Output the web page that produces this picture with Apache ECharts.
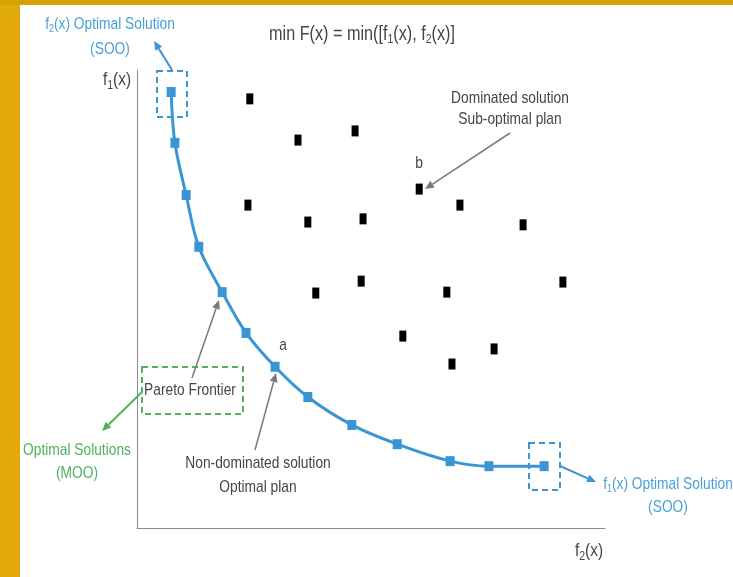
<!DOCTYPE html>
<html>
<head>
<meta charset="utf-8">
<script src="https://cdn.jsdelivr.net/npm/echarts@6/dist/echarts.min.js"></script>
<style>html,body{margin:0;padding:0;background:#fff;}#c{width:733px;height:577px;}</style>
</head>
<body>
<div id="c"></div>
<script>
// Pareto frontier (non-dominated solutions): f2(x) values, f1(x) values
const paretoF2 = [7.3, 8.1, 10.5, 13.2, 18.2, 23.3, 29.5, 36.5, 45.9, 55.6, 66.9, 75.2, 87.0];
const paretoF1 = [95.2, 84.1, 72.7, 61.4, 51.5, 42.6, 35.2, 28.6, 22.5, 18.3, 14.6, 13.5, 13.5];
// Dominated solutions
const domF2 = [24.1, 34.4, 46.6, 23.7, 36.5, 48.3, 60.3, 69.0, 82.5, 38.2, 47.9, 66.2, 91.0, 56.8, 67.3, 76.3];
const domF1 = [93.7, 84.7, 86.7, 70.5, 66.8, 67.5, 74.0, 70.5, 66.2, 51.3, 53.9, 51.5, 53.7, 41.9, 35.8, 39.1];

const FONT = '"Liberation Sans", Arial, sans-serif';
const BLUE = '#3a95d4';
const BLUE_T = '#4a9fd8';
const GREEN = '#4db35e';
const GRAY = '#7a7a7a';
const TXT = '#454545';
const NARROW = 0.81;

function txt(x, y, text, size, color) {
  const sub = Math.round(size * 0.66);
  return {
    type: 'text', x: x, y: y, z: 10, scaleX: NARROW,
    style: {
      text: text, fontSize: size, fontFamily: FONT, fill: color,
      align: 'center', verticalAlign: 'middle', textAlign: 'center', textVerticalAlign: 'middle',
      rich: {
        s: { fontSize: sub, fontFamily: FONT, fill: color, padding: [Math.round(size * 0.5), 0, 0, 0] }
      }
    }
  };
}
function arrow(x1, y1, x2, y2, color, w) {
  const a = Math.atan2(y2 - y1, x2 - x1);
  const L = 9, H = 4;
  const bx = x2 - L * Math.cos(a), by = y2 - L * Math.sin(a);
  const px = -Math.sin(a) * H, py = Math.cos(a) * H;
  return [
    { type: 'line', z: 9, shape: { x1: x1, y1: y1, x2: bx, y2: by }, style: { stroke: color, lineWidth: w } },
    { type: 'polygon', z: 9, shape: { points: [[x2, y2], [bx + px, by + py], [bx - px, by - py]] }, style: { fill: color } }
  ];
}
function dbox(x, y, w, h, color) {
  return { type: 'rect', z: 9, shape: { x: x, y: y, width: w, height: h },
    style: { fill: 'none', stroke: color, lineWidth: 2, lineDash: [6, 4] } };
}

const chart = echarts.init(document.getElementById('c'), null, { renderer: 'canvas' });

const graphics = [
  { type: 'rect', z: 0, shape: { x: 0, y: 0, width: 20, height: 577 }, style: { fill: '#e3aa0c' } },
  { type: 'rect', z: 0, shape: { x: 0, y: 0, width: 733, height: 5 }, style: { fill: '#d5a103' } },
  txt(362, 34, 'min F(x) = min([f{s|1}(x), f{s|2}(x)]', 20, TXT),
  txt(110, 24, 'f{s|2}(x) Optimal Solution', 17, BLUE_T),
  txt(110, 49, '(SOO)', 17, BLUE_T),
  txt(117, 80, 'f{s|1}(x)', 19, TXT),
  txt(510, 98, 'Dominated solution', 17, TXT),
  txt(510, 119, 'Sub-optimal plan', 17, TXT),
  txt(419, 163, 'b', 17, TXT),
  txt(283, 345, 'a', 17, TXT),
  txt(190, 390, 'Pareto Frontier', 17, TXT),
  txt(77, 450, 'Optimal Solutions', 17, GREEN),
  txt(77, 473, '(MOO)', 17, GREEN),
  txt(258, 463, 'Non-dominated solution', 17, TXT),
  txt(258, 487, 'Optimal plan', 17, TXT),
  txt(668, 484, 'f{s|1}(x) Optimal Solution', 17, BLUE_T),
  txt(668, 507, '(SOO)', 17, BLUE_T),
  txt(589, 551, 'f{s|2}(x)', 19, TXT),
  dbox(157, 71, 30, 46, BLUE),
  dbox(529, 443, 31, 47, BLUE),
  dbox(142, 367, 101, 47, GREEN)
].concat(
  arrow(172, 70, 154, 41, BLUE, 2),
  arrow(560, 466, 596, 482, BLUE, 2),
  arrow(142, 392, 102, 431, GREEN, 2),
  arrow(192, 378, 219, 300, GRAY, 1.5),
  arrow(255, 450, 276, 373, GRAY, 1.5),
  arrow(510, 133, 425, 189, GRAY, 1.5)
);

chart.setOption({
  animation: false,
  backgroundColor: '#ffffff',
  grid: { left: 137, right: 128, top: 70, bottom: 49 },
  xAxis: {
    type: 'value', min: 0, max: 100,
    axisLine: { show: true, lineStyle: { color: '#8a8a8a', width: 1 } },
    axisTick: { show: false }, axisLabel: { show: false }, splitLine: { show: false }
  },
  yAxis: {
    type: 'value', min: 0, max: 100,
    axisLine: { show: true, lineStyle: { color: '#8a8a8a', width: 1 } },
    axisTick: { show: false }, axisLabel: { show: false }, splitLine: { show: false }
  },
  series: [
    {
      type: 'line',
      data: paretoF2.map((v, i) => [v, paretoF1[i]]),
      smooth: 0.35,
      symbol: 'rect', symbolSize: [9, 10], showAllSymbol: true,
      lineStyle: { color: BLUE, width: 3 },
      itemStyle: { color: BLUE, opacity: 1 },
      z: 3
    },
    {
      type: 'scatter',
      data: domF2.map((v, i) => [v, domF1[i]]),
      symbol: 'rect', symbolSize: [7, 11],
      itemStyle: { color: '#000000', opacity: 1 },
      z: 4
    }
  ],
  graphic: graphics
});
</script>
</body>
</html>
